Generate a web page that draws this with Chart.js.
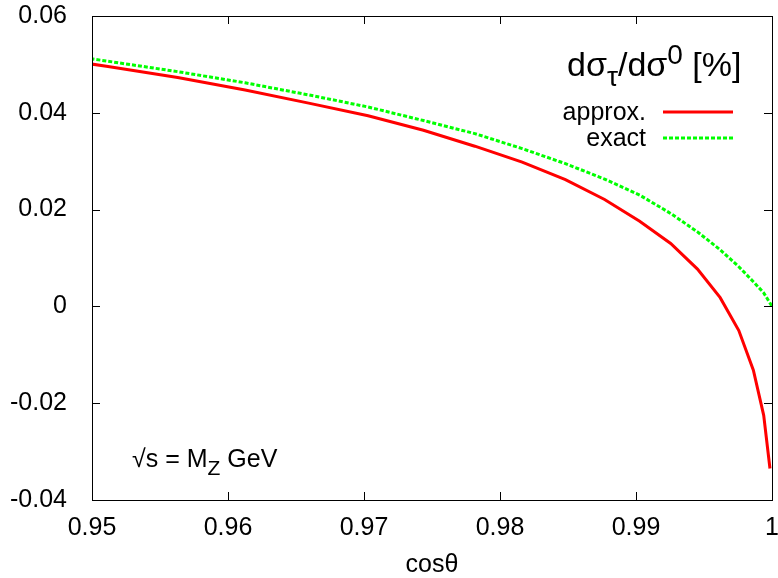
<!DOCTYPE html>
<html>
<head>
<meta charset="utf-8">
<script src="https://cdn.jsdelivr.net/npm/chart.js@4.4.0/dist/chart.umd.min.js"></script>
<style>
  html, body { margin: 0; padding: 0; background: #fff; }
  #wrap { width: 778px; height: 578px; }
</style>
</head>
<body>
<div id="wrap"><canvas id="sigmaChart"></canvas></div>
<script>
// cos(theta) sampled at 19, 18, ... 0 degrees
const cosTheta = [0.94552, 0.95106, 0.95630, 0.96126, 0.96593, 0.97030, 0.97437, 0.97815, 0.98163, 0.98481,
                  0.98769, 0.99027, 0.99255, 0.99452, 0.99619, 0.99756, 0.99863, 0.99939, 0.99985, 1.0];
const approx = [0.0520, 0.0496, 0.0473, 0.0447, 0.0420, 0.0394, 0.0364, 0.0331, 0.0298, 0.0262,
                0.0221, 0.0176, 0.0130, 0.0077, 0.0018, -0.0050, -0.0132, -0.0225, -0.0335, null];
const exact = [0.0530, 0.0507, 0.0485, 0.0462, 0.0437, 0.0412, 0.0384, 0.0357, 0.0326, 0.0295,
               0.0263, 0.0230, 0.0192, 0.0154, 0.0117, 0.0082, 0.0051, 0.0028, 0.0007, 0.0];
const xTicks = [0.95, 0.96, 0.97, 0.98, 0.99, 1];
const yTicks = [-0.04, -0.02, 0, 0.02, 0.04, 0.06];
const seriesNames = ['approx.', 'exact'];

const FONT = '"Liberation Sans", Arial, Helvetica, sans-serif';

function toPoints(ys) {
    return cosTheta.map((x, i) => ({ x: x, y: ys[i] }));
}

function fmt(v) {
    return String(+(+v).toFixed(2));
}

// draw text runs with sub/superscripts, left to right
function drawRich(ctx, x, y, parts) {
    parts.forEach(p => {
        ctx.font = p.size + 'px ' + FONT;
        ctx.fillText(p.text, x, y + (p.dy || 0));
        x += ctx.measureText(p.text).width;
    });
}

// gnuplot style frame with inward ticks on all four sides
const framePlugin = {
    id: 'frame',
    afterDraw(chart) {
        const { ctx, chartArea: a, scales } = chart;
        const L = 8;
        ctx.save();
        ctx.strokeStyle = '#000';
        ctx.lineWidth = 1;
        ctx.beginPath();
        scales.x.ticks.forEach(t => {
            const px = Math.round(scales.x.getPixelForValue(t.value)) + 0.5;
            ctx.moveTo(px, a.bottom); ctx.lineTo(px, a.bottom - L);
            ctx.moveTo(px, a.top); ctx.lineTo(px, a.top + L);
        });
        scales.y.ticks.forEach(t => {
            const py = Math.round(scales.y.getPixelForValue(t.value)) + 0.5;
            ctx.moveTo(a.left, py); ctx.lineTo(a.left + L, py);
            ctx.moveTo(a.right, py); ctx.lineTo(a.right - L, py);
        });
        ctx.stroke();
        ctx.strokeRect(Math.round(a.left) + 0.5, Math.round(a.top) + 0.5,
                       Math.round(a.right - a.left), Math.round(a.bottom - a.top));
        ctx.restore();
    }
};

// key box in the top right and the sqrt(s) label
const keyPlugin = {
    id: 'key',
    afterDraw(chart) {
        const ctx = chart.ctx;
        ctx.save();
        ctx.fillStyle = '#000';
        ctx.textBaseline = 'alphabetic';
        ctx.textAlign = 'left';
        drawRich(ctx, 567, 76, [
            { text: 'dσ', size: 34 },
            { text: 'τ', size: 28, dy: 10 },
            { text: '/dσ', size: 34 },
            { text: '0', size: 28, dy: -12 },
            { text: ' [%]', size: 34 }
        ]);
        drawRich(ctx, 132, 467, [
            { text: '√s = M', size: 25 },
            { text: 'Z', size: 21, dy: 8 },
            { text: ' GeV', size: 25 }
        ]);

        const rows = [120, 146];
        chart.data.datasets.forEach((ds, i) => {
            ctx.font = '25px ' + FONT;
            ctx.textAlign = 'right';
            ctx.fillText(ds.label, 646, rows[i]);
            const ly = rows[i] - 8;
            ctx.strokeStyle = ds.borderColor;
            ctx.lineWidth = ds.borderWidth;
            ctx.setLineDash(ds.borderDash || []);
            ctx.beginPath();
            ctx.moveTo(663, ly);
            ctx.lineTo(733, ly);
            ctx.stroke();
        });
        ctx.restore();
    }
};

const ctx = document.getElementById('sigmaChart').getContext('2d');
new Chart(ctx, {
    type: 'line',
    data: {
        datasets: [{
            label: seriesNames[0],
            data: toPoints(approx),
            borderColor: '#ff0000',
            borderWidth: 3,
            pointRadius: 0,
            tension: 0,
            fill: false
        }, {
            label: seriesNames[1],
            data: toPoints(exact),
            borderColor: '#00ff00',
            borderWidth: 3,
            borderDash: [4, 2],
            pointRadius: 0,
            tension: 0,
            fill: false
        }]
    },
    options: {
        responsive: true,
        maintainAspectRatio: false,
        devicePixelRatio: 1,
        animation: false,
        layout: {
            padding: { top: 16, right: 6, left: 0, bottom: 0 }
        },
        plugins: {
            legend: { display: false },
            tooltip: { enabled: false }
        },
        scales: {
            x: {
                type: 'linear',
                min: 0.95,
                max: 1,
                afterBuildTicks: scale => { scale.ticks = xTicks.map(v => ({ value: v })); },
                afterFit: scale => {
                    scale.height = 78;
                    scale.paddingLeft = 0;
                    scale.paddingRight = 0;
                },
                grid: { display: false },
                border: { display: false },
                ticks: {
                    color: '#000',
                    font: { family: FONT, size: 25 },
                    padding: 5,
                    maxRotation: 0,
                    autoSkip: false,
                    callback: fmt
                },
                title: {
                    display: true,
                    text: 'cosθ',
                    color: '#000',
                    font: { family: FONT, size: 25, lineHeight: 1 },
                    padding: { top: 0, bottom: 0 }
                }
            },
            y: {
                min: -0.04,
                max: 0.06,
                afterBuildTicks: scale => { scale.ticks = yTicks.map(v => ({ value: v })); },
                afterFit: scale => {
                    scale.width = 92;
                    scale.paddingTop = 0;
                    scale.paddingBottom = 0;
                },
                grid: { display: false },
                border: { display: false },
                ticks: {
                    color: '#000',
                    font: { family: FONT, size: 25 },
                    padding: 17,
                    autoSkip: false,
                    callback: fmt
                }
            }
        }
    },
    plugins: [framePlugin, keyPlugin]
});
</script>
</body>
</html>
